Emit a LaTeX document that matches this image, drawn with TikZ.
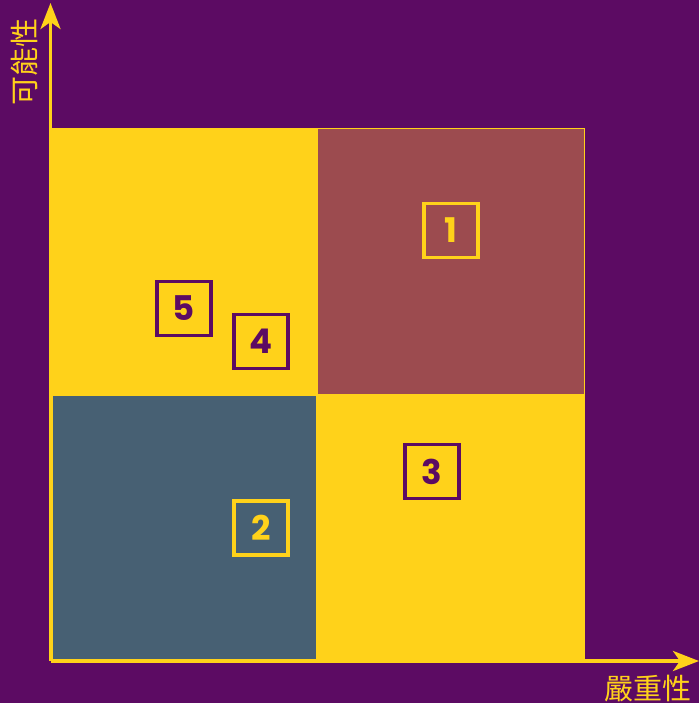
\documentclass[tikz,border=0pt]{standalone}
\usepackage{fontspec}
\newfontfamily\cjk{Noto Sans CJK TC}
\newfontfamily\numfont{Poppins}[BoldFont={* Bold}]
\usetikzlibrary{arrows.meta}
\definecolor{bgpurple}{HTML}{5C0B63}
\definecolor{ylw}{HTML}{FFD21A}
\definecolor{redq}{HTML}{9C4B4F}
\definecolor{slate}{HTML}{476073}
\tikzset{
  numbox/.style={draw, line width=3.8pt, minimum width=54pt, minimum height=54pt, inner sep=0pt, font=\numfont\bfseries\fontsize{34}{34}\selectfont},
  axis/.style={draw=ylw, line width=3.8pt, -{Stealth[length=26pt,width=20pt,inset=7pt]}},
  axlabel/.style={text=ylw, font=\cjk\fontsize{29}{29}\selectfont, inner sep=0pt}
}
\begin{document}
\begin{tikzpicture}[x=1pt,y=-1pt]
\fill[bgpurple] (0,0) rectangle (699,703);
\useasboundingbox (0,0) rectangle (699,703);
\fill[ylw] (50,128) rectangle (585,661);
\fill[redq] (318,129) rectangle (584,394);
\fill[slate] (53,396) rectangle (316,659);
\coordinate (origin) at (50.5,661);
\coordinate (ytop) at (50.5,3);
\coordinate (xend) at (699,661);
\draw[axis] (origin) -- (ytop);
\draw[axis] (origin) -- (xend);
\node[axlabel, rotate=90] (ylab) at (24,62) {可能性};
\node[axlabel] (xlab) at (648,689) {嚴重性};
\node[numbox, draw=ylw, text=ylw] (n1) at (451,230.5) {1};
\node[numbox, draw=ylw, text=ylw] (n2) at (261,528) {2};
\node[numbox, draw=bgpurple, text=bgpurple] (n3) at (432,471.5) {3};
\node[numbox, draw=bgpurple, text=bgpurple] (n4) at (261,341.5) {4};
\node[numbox, draw=bgpurple, text=bgpurple] (n5) at (184,308.5) {5};
\end{tikzpicture}
\end{document}
